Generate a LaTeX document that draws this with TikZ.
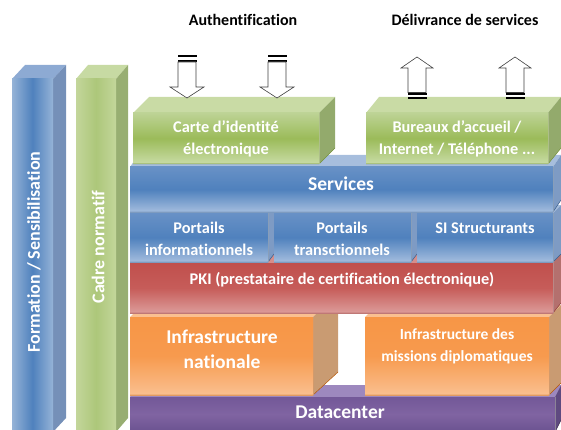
\documentclass[tikz,border=0pt]{standalone}
\usepackage{fontspec}
\setmainfont{Carlito}[Ligatures=NoCommon]

% face colours: <name>top, <name>side, <name>hi, <name>mid, <name>lo, <name>edge
\definecolor{grntop}{HTML}{C9DBA5}
\definecolor{grnside}{HTML}{93AA6C}
\definecolor{grnhi}{HTML}{BDD395}
\definecolor{grnmid}{HTML}{9BBB59}
\definecolor{grnlo}{HTML}{C9DCA6}
\definecolor{grnedge}{HTML}{76923C}
\definecolor{blutop}{HTML}{A7BEDD}
\definecolor{bluside}{HTML}{7E9BC4}
\definecolor{bluhi}{HTML}{6891C6}
\definecolor{blumid}{HTML}{4F81BD}
\definecolor{blulo}{HTML}{A4BDDE}
\definecolor{bluedge}{HTML}{385D8A}
\definecolor{redtop}{HTML}{D58E8C}
\definecolor{redside}{HTML}{B4706E}
\definecolor{redhi}{HTML}{C0504D}
\definecolor{redmid}{HTML}{C65C59}
\definecolor{redlo}{HTML}{DC9C9A}
\definecolor{rededge}{HTML}{8C3836}
\definecolor{orgtop}{HTML}{FAC090}
\definecolor{orgside}{HTML}{C99B72}
\definecolor{orghi}{HTML}{F79646}
\definecolor{orgmid}{HTML}{F79A4E}
\definecolor{orglo}{HTML}{FAC090}
\definecolor{orgedge}{HTML}{B65708}
\definecolor{purtop}{HTML}{9D88BE}
\definecolor{purside}{HTML}{5F4A80}
\definecolor{purhi}{HTML}{735898}
\definecolor{purmid}{HTML}{8064A2}
\definecolor{purlo}{HTML}{6A5290}
\definecolor{puredge}{HTML}{3F3151}
\definecolor{colbtop}{HTML}{8DAAD3}
\definecolor{colbside}{HTML}{7590B8}
\definecolor{colbout}{HTML}{95B3D7}
\definecolor{colbin}{HTML}{4F81BD}
\definecolor{colgtop}{HTML}{C7DAA3}
\definecolor{colgside}{HTML}{98AE72}
\definecolor{colgout}{HTML}{C3D69B}
\definecolor{colgin}{HTML}{ADC77A}
\definecolor{arrline}{HTML}{404040}

% #1,#2 front top-left, #3,#4 front bottom-right, #5,#6 depth, #7 colour
\newcommand{\slab}[7]{%
\fill[#7top] (#1,#2) -- ({#1+#5},{#2-#6}) -- ({#3+#5},{#2-#6}) -- (#3,#2) -- cycle;
\fill[#7side] (#3,#2) -- ({#3+#5},{#2-#6}) -- ({#3+#5},{#4-#6}) -- (#3,#4) -- cycle;
\shade[top color=#7hi, bottom color=#7lo, middle color=#7mid] (#1,#2) rectangle (#3,#4);
\draw[#7edge, line width=0.5pt, line join=round] (#1,#4) -- (#3,#4) -- ({#3+#5},{#4-#6});
\draw[#7edge!60, line width=0.3pt] (#3,#2) -- (#3,#4);
}
% upright column, shaded left to right
\newcommand{\pillar}[7]{%
\fill[#7top] (#1,#2) -- ({#1+#5},{#2-#6}) -- ({#3+#5},{#2-#6}) -- (#3,#2) -- cycle;
\fill[#7side] (#3,#2) -- ({#3+#5},{#2-#6}) -- ({#3+#5},{#4-#6}) -- (#3,#4) -- cycle;
\shade[left color=#7out, right color=#7out, middle color=#7in] (#1,#2) rectangle (#3,#4);
}

\begin{document}
\begin{tikzpicture}[x=1pt,y=-1pt]
\tikzstyle{every node}+=[inner sep=0pt]
\tikzstyle{lbl}=[text=white, align=center, font=\bfseries\fontsize{16.3}{21.5}\selectfont]
\tikzstyle{biglbl}=[text=white, align=center, font=\bfseries\fontsize{19.5}{25}\selectfont]
\tikzstyle{ttl}=[text=black, font=\bfseries\fontsize{16}{18}\selectfont]
\tikzstyle{arr}=[draw=arrline, fill=white, line width=0.6pt, line join=miter]
\useasboundingbox (0,0) rectangle (561,430);

% columns
\pillar{12}{79}{53}{432}{13}{14}{colb}
\node[lbl, font=\bfseries\fontsize{18}{20}\selectfont, rotate=90] (formation) at (34,252) {Formation / Sensibilisation};
\pillar{76}{79}{116}{432}{12}{14}{colg}
\node[lbl, font=\bfseries\fontsize{18}{20}\selectfont, rotate=90] (cadre) at (98,247) {Cadre normatif};

% layers, back to front
\slab{130}{397}{555}{432}{6}{12}{pur}
\node[biglbl] (datacenter) at (340,412) {Datacenter};
\slab{130}{317}{313}{395}{25}{23}{org}
\node[biglbl] (infnat) at (222,349.5) {Infrastructure\\nationale};
\slab{365}{317}{549}{395}{12}{12}{org}
\node[lbl, font=\bfseries\fontsize{15.5}{22}\selectfont] (infmiss) at (457,346) {Infrastructure des\\missions diplomatiques};
\slab{130}{263}{553}{313}{8}{10}{red}
\node[lbl] (pki) at (342,280) {PKI (prestataire de certification électronique)};
\slab{130}{213}{268}{262}{6}{8}{blu}
\node[lbl, font=\bfseries\fontsize{16.3}{22}\selectfont] (portinfo) at (199,239) {Portails\\informationnels};
\slab{274}{213}{411}{262}{6}{8}{blu}
\node[lbl, font=\bfseries\fontsize{16.3}{22}\selectfont] (porttrans) at (342,239) {Portails\\transctionnels};
\slab{417}{213}{553}{262}{8}{8}{blu}
\node[lbl] (si) at (485,228) {SI Structurants};
\slab{130}{167}{553}{212}{8}{12}{blu}
\node[biglbl] (services) at (341,184) {Services};
\slab{133}{113}{319}{164}{16}{16}{grn}
\node[lbl] (carte) at (226,139) {Carte d’identité\\électronique};
\slab{366}{113}{548}{164}{13}{16}{grn}
\node[lbl] (bureaux) at (457,139) {Bureaux d’accueil /\\Internet / Téléphone ...};

% arrows
\foreach \x in {187,277} {
\fill[black] (\x-9.5,55) rectangle (\x+9.5,57);
\fill[black] (\x-9.5,59.7) rectangle (\x+9.5,62);
\draw[arr] (\x-9,62) -- (\x-9,87) -- (\x-17,87) -- (\x,98) -- (\x+17,87) -- (\x+9,87) -- (\x+9,62) -- cycle;
}
\foreach \x in {417,515} {
\draw[arr] (\x-9,92.5) -- (\x-9,68) -- (\x-16,68) -- (\x,57) -- (\x+16,68) -- (\x+9,68) -- (\x+9,92.5) -- cycle;
\fill[black] (\x-9.5,93) rectangle (\x+9.5,95);
\fill[black] (\x-9.5,96.7) rectangle (\x+9.5,99.3);
}
\node[ttl] (auth) at (243,20) {Authentification};
\node[ttl] (deliv) at (465,20) {Délivrance de services};
\end{tikzpicture}
\end{document}
